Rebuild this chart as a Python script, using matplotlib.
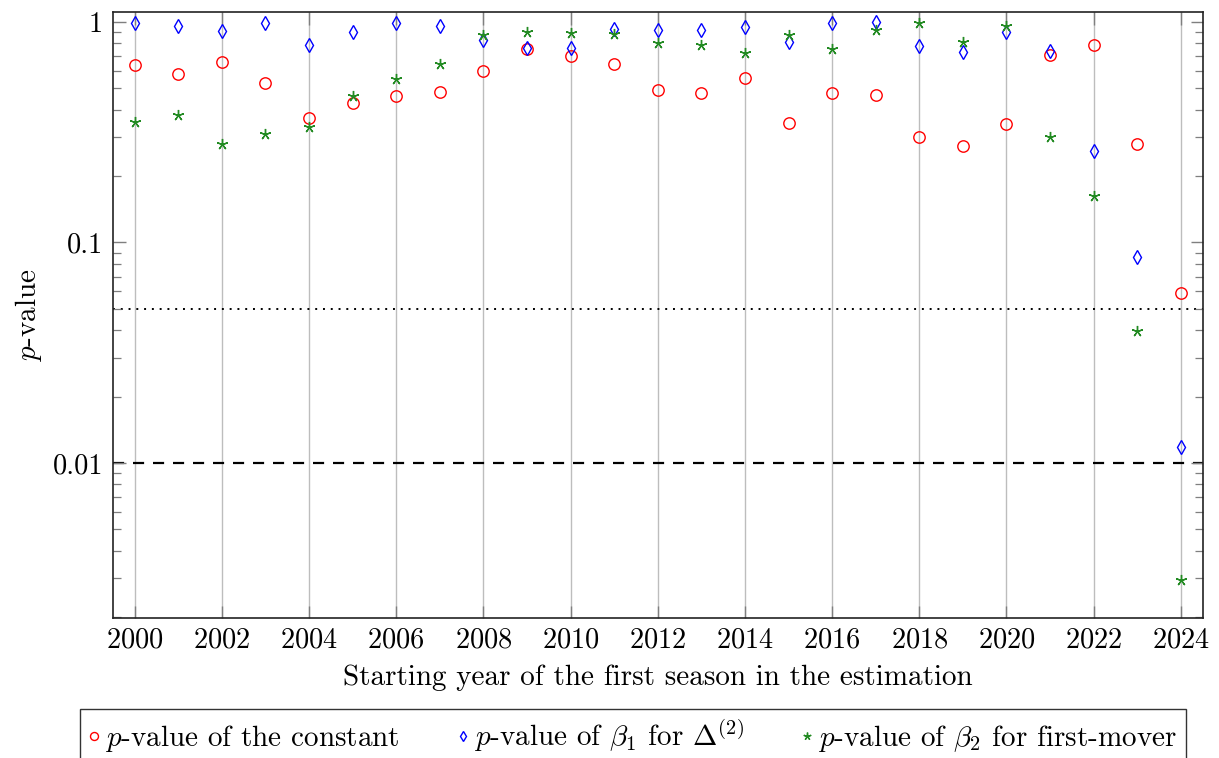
import matplotlib
matplotlib.use("Agg")
import matplotlib.pyplot as plt
from matplotlib.ticker import FixedLocator, FixedFormatter, LogLocator, NullFormatter

plt.rcParams['font.family'] = ['cmr10', 'DejaVu Serif']
plt.rcParams['mathtext.fontset'] = 'cm'
plt.rcParams['axes.unicode_minus'] = False
plt.rcParams['axes.formatter.use_mathtext'] = True

years = list(range(2000, 2025))
p_const = [0.64, 0.58, 0.66, 0.53, 0.365, 0.43, 0.46, 0.48, 0.60, 0.75,
           0.70, 0.645, 0.49, 0.477, 0.556, 0.349, 0.474, 0.467, 0.30, 0.275,
           0.344, 0.71, 0.785, 0.279, 0.0588]
p_beta1 = [0.99, 0.96, 0.91, 0.99, 0.79, 0.90, 0.99, 0.96, 0.83, 0.76,
           0.765, 0.93, 0.92, 0.917, 0.95, 0.81, 0.99, 0.995, 0.776, 0.73,
           0.90, 0.74, 0.259, 0.0855, 0.0118]
p_beta2 = [0.35, 0.38, 0.28, 0.31, 0.335, 0.46, 0.55, 0.644, 0.87, 0.90,
           0.89, 0.88, 0.806, 0.79, 0.72, 0.87, 0.755, 0.92, 0.99, 0.81,
           0.955, 0.30, 0.162, 0.0396, 0.00295]
labels = [r'$p$-value of the constant',
          r'$p$-value of $\beta_1$ for $\Delta^{(2)}$',
          r'$p$-value of $\beta_2$ for first-mover']
xticks = list(range(2000, 2025, 2))
yticks = [0.01, 0.1, 1]
ytick_labels = ['0.01', '0.1', '1']
thresholds = [0.05, 0.01]

FS_TICK = 20.4
FS = 21

fig = plt.figure(figsize=(12.19, 7.58), dpi=100)
ax = fig.add_axes([0.0925, 0.1851, 0.8941, 0.7995])
ax.set_yscale('log')
ax.set_xlim(1999.5, 2024.5)
ax.set_ylim(0.00199, 1.113)

for x in xticks:
    ax.axvline(x, color='#bdbdbd', lw=1.0, zorder=0)

ax.axhline(thresholds[0], color='black', lw=1.4, ls=(0, (1, 3)), zorder=1)
ax.axhline(thresholds[1], color='black', lw=1.6, ls=(0, (5, 4)), zorder=1)

green = '#238b23'
h1, = ax.plot(years, p_const, ls='none', marker='o', ms=8.2, mfc='none',
              mec='red', mew=1.0, label=labels[0], zorder=3)
h2, = ax.plot(years, p_beta1, ls='none', marker='d', ms=7.5, mfc='none',
              mec='blue', mew=1.0, label=labels[1], zorder=3)
h3, = ax.plot(years, p_beta2, ls='none', marker=(5, 2, 0), ms=8, mfc='none',
              mec=green, mew=1.0, label=labels[2], zorder=3)

ax.xaxis.set_major_locator(FixedLocator(xticks))
ax.yaxis.set_major_locator(FixedLocator(yticks))
ax.yaxis.set_major_formatter(FixedFormatter(ytick_labels))
ax.yaxis.set_minor_locator(LogLocator(base=10, subs=range(2, 10), numticks=20))
ax.yaxis.set_minor_formatter(NullFormatter())

ax.tick_params(axis='both', which='both', direction='in', top=True, right=True,
               color='#7f7f7f', labelsize=FS_TICK)
ax.tick_params(axis='both', which='major', length=9, width=1.0, pad=7)
ax.tick_params(axis='y', which='minor', length=5.5, width=0.9)
ax.tick_params(axis='x', which='minor', bottom=False, top=False)

for s in ax.spines.values():
    s.set_linewidth(1.2)
    s.set_color('#222222')

ax.set_xlabel('Starting year of the first season in the estimation',
              fontsize=FS, labelpad=8)
ax.set_ylabel(r'$p$-value', fontsize=FS, labelpad=6)

leg = fig.legend(handles=[h1, h2, h3], loc='upper left',
                 bbox_to_anchor=(80 / 1219, 1 - 709 / 758), ncol=3,
                 fontsize=FS, frameon=True, fancybox=False,
                 edgecolor='black', handlelength=0.35, handletextpad=0.2,
                 columnspacing=2.0, borderpad=0.3, borderaxespad=0.0,
                 markerscale=0.7)
leg.get_frame().set_linewidth(1.0)

fig.savefig('out.png', dpi=100)
